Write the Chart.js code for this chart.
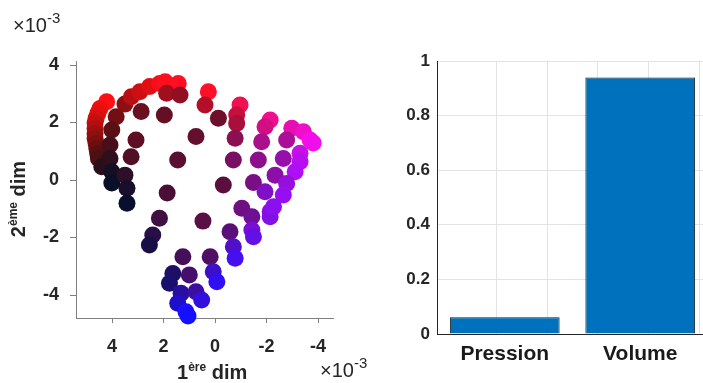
<!DOCTYPE html>
<html>
<head>
<meta charset="utf-8">
<script src="https://cdn.jsdelivr.net/npm/chart.js@4.4.0/dist/chart.umd.min.js"></script>
<style>
  html, body { margin: 0; padding: 0; background: #fff; width: 703px; height: 383px; overflow: hidden; position: relative; }
  body { font-family: "Liberation Sans", Arial, sans-serif; color: #262626; }
  canvas { position: absolute; top: 0; }
  #scatter { left: 0; }
  #bars { left: 380px; }
  .lbl { position: absolute; white-space: nowrap; line-height: 1; }
  .exp { font-size: 20px; }
  .exp .sup { font-size: 15px; position: relative; top: -9px; }
  .title { font-size: 20px; font-weight: bold; }
  .title .sup { font-size: 12px; position: relative; top: -8px; }
</style>
</head>
<body>
<canvas id="scatter" width="360" height="383"></canvas>
<canvas id="bars" width="340" height="383"></canvas>

<div class="lbl exp" style="left:13px; top:15px;">×10<span class="sup">-3</span></div>
<div class="lbl exp" style="left:320px; top:360px;">×10<span class="sup">-3</span></div>
<div class="lbl title" style="left:177px; top:362px;">1<span class="sup">ère</span> dim</div>
<div class="lbl title" style="left:18px; top:199px; transform: translate(-50%, -50%) rotate(-90deg);">2<span class="sup">ème</span> dim</div>

<script>
// values are in units of 1e-3
const dimX = [
  4.21, 4.47, 4.55, 4.62, 4.66, 4.66, 4.66, 4.66, 4.62, 4.59, 4.56, 4.53, 4.40,
  3.84, 4.01, 4.08, 4.08, 4.01, 4.01,
  3.50, 3.25, 2.92, 2.54, 2.15, 1.94, 1.43, 1.88, 1.36,
  2.87, 1.97, 3.07, 3.26, 3.50, 3.42, 3.42,
  0.74, 1.45, 1.86, 2.16, 2.42, 2.55,
  0.26, 0.39, -0.13, -0.32, 0.47, 0.19, 0.07, -0.07,
  1.25, 1.64, 1.77, 1.00, 1.32, 0.74, 1.45, 0.52, 1.13, 1.05,
  -0.97, -0.84, -0.84, -0.78, -0.71, -1.49, -1.04, -1.43, -0.58, -0.71, -0.78,
  -2.14, -1.94, -1.81, -1.68, -1.94, -2.14, -2.14, -1.43, -1.49,
  -2.98, -3.43, -3.69, -3.81, -2.78, -2.65, -3.30, -3.30, -3.11, -2.33, -2.78, -2.65, -2.27
];
const dimY = [
  2.72, 2.49, 2.32, 2.15, 1.98, 1.80, 1.62, 1.45, 1.27, 1.10, 0.92, 0.75, 0.46,
  2.20, 1.74, 1.22, 0.75, 0.29, -0.10,
  2.64, 2.90, 3.07, 3.25, 3.36, 3.42, 3.36, 3.02, 2.96,
  2.38, 2.26, 1.39, 0.81, 0.17, -0.29, -0.81,
  1.51, 0.70, -0.45, -1.33, -1.91, -2.26,
  3.07, 2.61, 2.15, -0.17, -1.43, -2.67, -3.19, -3.54,
  -2.67, -3.25, -3.59, -3.30, -3.94, -3.89, -4.29, -4.17, -4.58, -4.73,
  2.61, 2.26, 1.97, 1.45, 0.70, -0.09, -0.98, -1.28, -1.80, -2.32, -2.72,
  2.09, 1.85, 1.33, 0.70, -0.41, -1.10, -1.28, -1.74, -1.97,
  1.80, 1.68, 1.39, 1.29, 1.39, 0.75, 0.93, 0.64, 0.29, 0.17, -0.12, -0.52, -0.93
];
// red and blue levels of each point (0-255)
const colorR = [
  255, 240, 230, 215, 195, 180, 160, 145, 125, 110, 90, 75, 40,
  115, 90, 70, 45, 20, 10,
  140, 185, 205, 225, 245, 255, 255, 160, 145,
  105, 100, 95, 80, 45, 25, 10,
  100, 90, 75, 65, 40, 25,
  255, 180, 110, 90, 90, 80, 60, 50,
  70, 30, 25, 70, 40, 60, 30, 50, 30, 20,
  240, 200, 170, 140, 120, 120, 110, 110, 90, 80, 70,
  240, 210, 170, 140, 130, 140, 130, 120, 100,
  230, 240, 245, 240, 170, 150, 200, 185, 175, 140, 150, 150, 140
];
const colorB = [
  20, 15, 15, 15, 15, 15, 15, 15, 15, 15, 20, 20, 25,
  20, 20, 25, 30, 35, 40,
  20, 20, 20, 20, 25, 30, 35, 30, 35,
  30, 35, 35, 35, 40, 45, 45,
  45, 50, 55, 65, 70, 70,
  40, 40, 45, 60, 70, 100, 200, 240,
  90, 100, 110, 110, 160, 160, 200, 220, 255, 255,
  80, 60, 60, 80, 100, 130, 130, 150, 120, 200, 240,
  140, 130, 140, 140, 200, 220, 230, 210, 230,
  180, 200, 230, 235, 150, 170, 230, 240, 245, 170, 220, 240, 240
];
const xTicks = [4, 2, 0, -2, -4];
const yTicks = [-4, -2, 0, 2, 4];

const categories = ["Pression", "Volume"];
const shares = [0.061, 0.94];
const barTicks = [0, 0.2, 0.4, 0.6, 0.8, 1];
const barGridSteps = [1, 1.5, 2, 2.5];

const FONT = "'Liberation Sans', Arial, sans-serif";
const TEXT = "#262626";

const scatterData = dimX.map((x, i) => ({ x: x, y: dimY[i] }));
const pointColors = colorR.map((r, i) => `rgb(${r},15,${colorB[i]})`);

new Chart(document.getElementById("scatter"), {
  type: "scatter",
  data: {
    datasets: [{
      data: scatterData,
      backgroundColor: pointColors,
      borderWidth: 0,
      pointRadius: 8.5,
      pointHoverRadius: 8.5,
      clip: false
    }]
  },
  options: {
    responsive: false,
    animation: false,
    events: [],
    layout: { padding: { top: 61, right: 27, left: 0, bottom: 0 } },
    plugins: { legend: { display: false }, tooltip: { enabled: false } },
    scales: {
      x: {
        type: "linear",
        reverse: true,
        min: -4.58,
        max: 5.4,
        afterBuildTicks: (s) => { s.ticks = xTicks.map((v) => ({ value: v })); },
        afterFit: (s) => { s.height = 65; },
        grid: { drawOnChartArea: false, tickLength: 5, color: "#808080" },
        border: { color: "#808080" },
        ticks: {
          padding: 13,
          color: TEXT,
          font: { family: FONT, size: 18, weight: "bold" },
          callback: (v) => String(v)
        }
      },
      y: {
        type: "linear",
        min: -4.8,
        max: 4.14,
        afterBuildTicks: (s) => { s.ticks = yTicks.map((v) => ({ value: v })); },
        afterFit: (s) => { s.width = 76; },
        grid: { drawOnChartArea: false, tickLength: 6, color: "#808080" },
        border: { color: "#808080" },
        ticks: {
          padding: 11,
          color: TEXT,
          font: { family: FONT, size: 18, weight: "bold" },
          callback: (v) => String(v)
        }
      }
    }
  }
});

new Chart(document.getElementById("bars"), {
  type: "bar",
  data: {
    labels: categories,
    datasets: [{
      data: shares,
      backgroundColor: "#0072BD",
      borderColor: "#1a1a1a",
      borderWidth: 1,
      barPercentage: 0.81,
      categoryPercentage: 1
    }]
  },
  options: {
    responsive: false,
    animation: false,
    events: [],
    layout: { padding: { top: 61, right: 12, left: 0, bottom: 0 } },
    plugins: { legend: { display: false }, tooltip: { enabled: false } },
    scales: {
      x: {
        grid: { display: false },
        border: { color: "#262626" },
        afterFit: (s) => { s.height = 49; },
        ticks: {
          padding: 0,
          color: "#1a1a1a",
          font: { family: FONT, size: 21, weight: "bold" }
        }
      },
      xGrid: {
        type: "linear",
        position: "top",
        min: 0.5,
        max: 2.5,
        afterBuildTicks: (s) => { s.ticks = barGridSteps.map((v) => ({ value: v })); },
        afterFit: (s) => { s.height = 0; },
        ticks: { display: false },
        grid: { color: "#e3e3e3", drawTicks: false },
        border: { display: false }
      },
      y: {
        min: 0,
        max: 1,
        afterBuildTicks: (s) => { s.ticks = barTicks.map((v) => ({ value: v })); },
        afterFit: (s) => { s.width = 57; },
        grid: { color: "#e3e3e3", drawTicks: false },
        border: { color: "#262626" },
        ticks: {
          padding: 7,
          color: TEXT,
          font: { family: FONT, size: 17, weight: "bold" },
          callback: (v) => String(v)
        }
      }
    }
  }
});
</script>
</body>
</html>
